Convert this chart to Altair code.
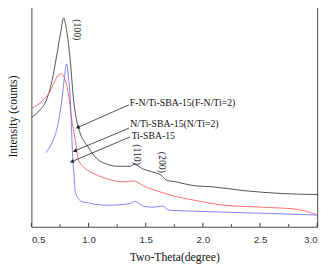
import altair as alt
import pandas as pd

# ---- data (intensity in arbitrary units) ----
fn_x = [0.5, 0.568, 0.628, 0.679, 0.722, 0.756, 0.782, 0.807, 0.841, 0.867, 0.910, 0.995,
        1.080, 1.166, 1.251, 1.311, 1.362, 1.396, 1.481, 1.592, 1.635, 1.677, 1.763, 1.933,
        2.079, 2.360, 2.701, 3.0]
fn_y = [112, 119, 129, 149, 176, 199, 214, 202, 169, 132, 102, 82, 69, 64, 62, 62, 62, 64,
        59, 55, 53, 48, 46, 42, 41, 37, 34, 33]

n_x = [0.5, 0.594, 0.654, 0.696, 0.739, 0.765, 0.782, 0.807, 0.833, 0.850, 0.884, 0.910,
       0.969, 1.055, 1.166, 1.311, 1.396, 1.422, 1.481, 1.618, 1.763, 1.933, 2.189, 2.531,
       2.812, 2.898, 3.0]
n_y = [121, 129, 137, 147, 156, 157, 154, 146, 129, 112, 89, 69, 60, 54, 49, 46, 47, 46,
       42, 36, 31, 27, 22, 20, 18, 16, 12]

t_x = [0.628, 0.671, 0.713, 0.739, 0.765, 0.790, 0.807, 0.824, 0.841, 0.850, 0.858, 0.875,
       0.884, 0.910, 0.935, 1.020, 1.055, 1.191, 1.311, 1.370, 1.404, 1.439, 1.481, 1.567,
       1.626, 1.652, 1.677, 1.703, 1.908, 2.471, 3.0]
t_y = [76, 84, 96, 109, 129, 154, 167, 154, 129, 104, 79, 49, 36, 29, 26, 24, 23, 22, 23,
       24, 26, 24, 21, 20, 21, 21, 19, 17, 16, 14, 12]

series_names = ["F-N/Ti-SBA-15(F-N/Ti=2)", "N/Ti-SBA-15(N/Ti=2)", "Ti-SBA-15"]
series_colors = ["#3c3c3c", "#ff5a5a", "#7070ff"]

x_tick_labels = [0.5, 1.0, 1.5, 2.0, 2.5, 3.0]
x_minor_ticks = [0.75, 1.25, 1.75, 2.25, 2.75]

# annotation texts (label, x, y)
label_text = series_names
label_x = [1.36, 1.365, 1.375]
label_y = [127, 105, 93]
arrow_x1 = [1.353, 1.353, 1.362]
arrow_y1 = [125, 101, 92]
arrow_x2 = [0.910, 0.884, 0.858]
arrow_y2 = [102, 78, 67]

peak_text = ["(100)", "(110)", "(200)"]
peak_x = [0.901, 1.421, 1.643]
peak_y = [202, 74, 66]

W, H = 293, 227
SERIF = "Liberation Serif"
SANS = "Liberation Sans"

rows = []
for name, xs, ys in zip(series_names, [fn_x, n_x, t_x], [fn_y, n_y, t_y]):
    for i, (a, b) in enumerate(zip(xs, ys)):
        rows.append({"s": name, "x": a, "y": b, "o": i})
df = pd.DataFrame(rows)

xs = alt.Scale(domain=[0.5, 3.0], nice=False)
ys = alt.Scale(domain=[0, 227], nice=False)

lines = alt.Chart(df).mark_line(strokeWidth=0.9, interpolate="monotone").encode(
    x=alt.X("x:Q", scale=xs,
            axis=alt.Axis(values=x_tick_labels, format=".1f", ticks=False, domain=False,
                          grid=False, labelFont=SANS, labelFontSize=10, labelColor="#333",
                          labelPadding=8, title="Two-Theta(degree)", titleFont=SERIF,
                          titleFontSize=12, titleFontWeight="normal", titleColor="#111",
                          titlePadding=8)),
    y=alt.Y("y:Q", scale=ys,
            axis=alt.Axis(labels=False, ticks=False, domain=False, grid=False,
                          title="Intensity (counts)", titleFont=SERIF, titleFontSize=12,
                          titleFontWeight="normal", titleColor="#111", titlePadding=12)),
    color=alt.Color("s:N", scale=alt.Scale(domain=series_names, range=series_colors), legend=None),
    order="o:Q",
)

major = alt.Chart(pd.DataFrame({"x": x_tick_labels})).mark_rule(color="#333").encode(
    x=alt.X("x:Q", scale=xs), y=alt.value(H), y2=alt.value(H - 4))
minor = alt.Chart(pd.DataFrame({"x": x_minor_ticks})).mark_rule(color="#333").encode(
    x=alt.X("x:Q", scale=xs), y=alt.value(H), y2=alt.value(H - 2.5))

ann = pd.DataFrame({"t": label_text, "x": label_x, "y": label_y,
                    "x1": arrow_x1, "y1": arrow_y1, "x2": arrow_x2, "y2": arrow_y2})
texts = alt.Chart(ann).mark_text(font=SERIF, fontSize=10, align="left", baseline="middle",
                                 color="#111").encode(
    x=alt.X("x:Q", scale=xs), y=alt.Y("y:Q", scale=ys), text="t:N")
arrows = alt.Chart(ann).mark_rule(color="#222", strokeWidth=0.8).encode(
    x=alt.X("x1:Q", scale=xs), y=alt.Y("y1:Q", scale=ys),
    x2="x2:Q", y2="y2:Q")
heads = alt.Chart(ann).mark_point(shape="triangle", filled=True, size=20, color="#222",
                                  angle=247, opacity=1).encode(
    x=alt.X("x2:Q", scale=xs), y=alt.Y("y2:Q", scale=ys))

peaks = alt.Chart(pd.DataFrame({"t": peak_text, "x": peak_x, "y": peak_y})).mark_text(
    font=SERIF, fontSize=10, angle=90, align="center", baseline="middle", color="#111").encode(
    x=alt.X("x:Q", scale=xs), y=alt.Y("y:Q", scale=ys), text="t:N")

chart = alt.layer(lines, major, minor, arrows, heads, texts, peaks).properties(
    width=W, height=H,
    autosize=alt.AutoSizeParams(type="none"),
    padding={"left": 24, "top": -6, "right": 8, "bottom": 38},
    background="white",
).configure_view(stroke="#444", strokeWidth=1)

chart.save("out.html", embed_options={"renderer": "svg", "actions": False})
